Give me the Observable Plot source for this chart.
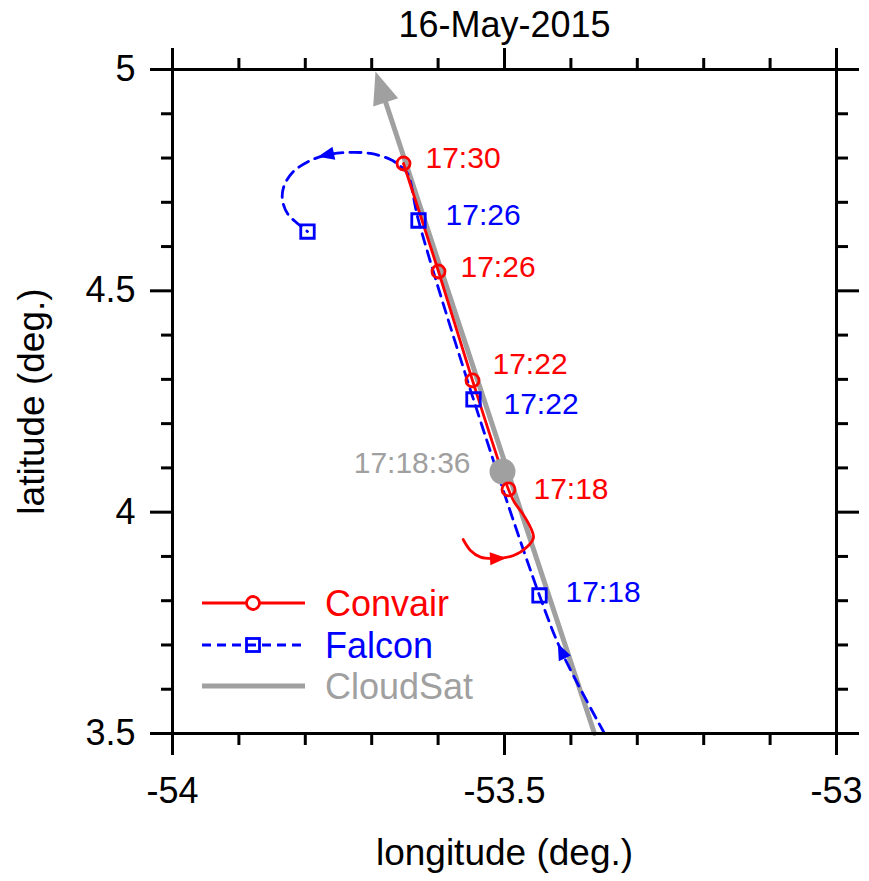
<!DOCTYPE html>
<html>
<head>
<meta charset="utf-8">
<script src="https://cdn.jsdelivr.net/npm/d3@7"></script>
<script src="https://cdn.jsdelivr.net/npm/@observablehq/plot@0.6"></script>
<style>
  body { margin: 0; background: #fff; }
  #chart { width: 869px; height: 881px; }
  #chart svg { overflow: visible; }
</style>
</head>
<body>
<div id="chart"></div>
<script>
// Convair flight track (lon/lat, deg.), in flight order
const convairLon = [-53.5622, -53.5512, -53.5361, -53.5136, -53.4864, -53.4654, -53.4563, -53.4608, -53.4729, -53.4849, -53.4940, -53.5482, -53.5994, -53.6521];
const convairLat = [3.9383, 3.9135, 3.8983, 3.8954, 3.9022, 3.9225, 3.9429, 3.9654, 3.9971, 4.0219, 4.0513, 4.2975, 4.5437, 4.7877];
// Convair time marks
const convairTimes = ["17:18", "17:22", "17:26", "17:30"];
const convairTimeLon = [-53.4940, -53.5482, -53.5994, -53.6521];
const convairTimeLat = [4.0513, 4.2975, 4.5437, 4.7877];

// Falcon flight track (lon/lat, deg.), in flight order
const falconLon = [-53.3494, -53.4127, -53.4473, -53.5467, -53.6295, -53.6461, -53.6581, -53.6717, -53.7018, -53.7364, -53.7650, -53.7922, -53.8193, -53.8328, -53.8343, -53.8268, -53.8117, -53.7967];
const falconLat = [3.5000, 3.6808, 3.8118, 4.2546, 4.6589, 4.7650, 4.7832, 4.7967, 4.8103, 4.8125, 4.8080, 4.7944, 4.7673, 4.7335, 4.7041, 4.6747, 4.6521, 4.6340];
// Falcon time marks
const falconTimes = ["17:18", "17:22", "17:26"];
const falconTimeLon = [-53.4473, -53.5467, -53.6295];
const falconTimeLat = [3.8118, 4.2546, 4.6589];

// CloudSat ground track and overpass point
const cloudsatLon = [-53.3645, -53.6943];
const cloudsatLat = [3.5000, 4.9955];
const overpassTime = "17:18:36";
const overpassLon = -53.503;
const overpassLat = 4.092;

// Axis ticks
const xMajor = [-54, -53.5, -53];
const yMajor = [3.5, 4, 4.5, 5];
const xMinor = d3.range(1, 10).map(i => +(-54 + i / 10).toFixed(1)).filter(v => !xMajor.includes(v));
const yMinor = d3.range(1, 15).map(i => +(3.5 + i / 10).toFixed(1)).filter(v => !yMajor.includes(v));

const title = "16-May-2015";
const xLabel = "longitude (deg.)";
const yLabel = "latitude (deg.)";
const seriesNames = ["Convair", "Falcon", "CloudSat"];

// ---- styling / layout ----
const W = 869, H = 881;
const mL = 172, mR = 33, mT = 69, mB = 148;
const FONT = '"Liberation Sans", Arial, Helvetica, sans-serif';
const RED = "#ff0000", BLUE = "#0000ff", GRAY = "#a0a0a0";
const DASH = "11,7";
const LINE_W = 2.8;

const pts = (lons, lats) => lons.map((lon, i) => ({lon, lat: lats[i]}));
const convair = pts(convairLon, convairLat);
const falcon = pts(falconLon, falconLat);
const convairMarks = convairTimes.map((t, i) => ({lon: convairTimeLon[i], lat: convairTimeLat[i], t}));
const falconMarks = falconTimes.map((t, i) => ({lon: falconTimeLon[i], lat: falconTimeLat[i], t}));
const falconEnd = falcon[falcon.length - 1];

// slender arrowhead symbol pointing up, centroid at the origin
const ARROW_LEN = 2.6, ARROW_HALF = 1.05;
const arrowSymbol = {
  draw(context, size) {
    const r = Math.sqrt(size / Math.PI);
    const L = ARROW_LEN * r, hw = ARROW_HALF * r;
    context.moveTo(0, -2 * L / 3);
    context.lineTo(hw, L / 3);
    context.lineTo(-hw, L / 3);
    context.closePath();
  }
};

// screen-space helpers (same domain/range as the plot scales) for arrow orientation
const sx = d3.scaleLinear([-54, -53], [mL, W - mR]);
const sy = d3.scaleLinear([3.5, 5], [H - mB, mT]);
const heading = (a, b) => Math.atan2(sx(b.lon) - sx(a.lon), -(sy(b.lat) - sy(a.lat))) * 180 / Math.PI;
const arrowAt = (track, i) => ({lon: track[i].lon, lat: track[i].lat, rot: heading(track[i - 1], track[i + 1])});

const arrows = [arrowAt(convair, 3), arrowAt(falcon, 1), arrowAt(falcon, 10)];
const arrowColors = [RED, BLUE, BLUE];

// CloudSat arrowhead: tip at the track end
const csStart = {lon: cloudsatLon[0], lat: cloudsatLat[0]};
const csTip = {lon: cloudsatLon[1], lat: cloudsatLat[1]};
const csRot = heading(csStart, csTip);
const csR = 12.5;
const csTipOffset = 2 * ARROW_LEN * csR / 3;
const csDir = [Math.sin(csRot * Math.PI / 180), -Math.cos(csRot * Math.PI / 180)];
const csCenter = {
  lon: sx.invert(sx(csTip.lon) - csDir[0] * csTipOffset),
  lat: sy.invert(sy(csTip.lat) - csDir[1] * csTipOffset),
  rot: csRot
};
const cloudsat = [csStart, csCenter];

// time label offsets (px) relative to their marks
const convairLabelOffset = {"17:18": [25, 0], "17:22": [20, -16], "17:26": [22, -4], "17:30": [22, -5.5]};
const falconLabelOffset = {"17:18": [26, -3], "17:22": [30, 4.5], "17:26": [27, -5.5]};

const labelMarks = (marks, offsets, color) => marks.map(d =>
  Plot.text([d], {x: "lon", y: "lat", text: "t", fill: color, fontSize: 30, textAnchor: "start",
    dx: offsets[d.t][0], dy: offsets[d.t][1]}));

const axisCommon = {strokeWidth: 3, label: null};

const plot = Plot.plot({
  width: W, height: H,
  marginLeft: mL, marginRight: mR, marginTop: mT, marginBottom: mB,
  style: {fontFamily: FONT, fontSize: "36px", background: "#fff", color: "#000", overflow: "visible"},
  x: {domain: [-54, -53]},
  y: {domain: [3.5, 5]},
  marks: [
    // tracks
    Plot.line(cloudsat, {x: "lon", y: "lat", stroke: GRAY, strokeWidth: 5}),
    Plot.line(falcon, {x: "lon", y: "lat", stroke: BLUE, strokeWidth: LINE_W, strokeDasharray: DASH, curve: "catmull-rom"}),
    Plot.line(convair, {x: "lon", y: "lat", stroke: RED, strokeWidth: LINE_W, curve: "catmull-rom"}),
    // direction arrows
    Plot.dot([csCenter], {x: "lon", y: "lat", symbol: arrowSymbol, r: csR, rotate: "rot", fill: GRAY, stroke: "none"}),
    Plot.dot(arrows, {x: "lon", y: "lat", symbol: arrowSymbol, r: 6.3, rotate: "rot", fill: (d, i) => arrowColors[i], stroke: "none"}),
    // CloudSat overpass
    Plot.dot([{lon: overpassLon, lat: overpassLat}], {x: "lon", y: "lat", r: 13, fill: GRAY, stroke: "none"}),
    Plot.text([{lon: overpassLon, lat: overpassLat, t: overpassTime}], {x: "lon", y: "lat", text: "t", fill: GRAY, fontSize: 30, textAnchor: "end", dx: -32, dy: -8.5}),
    // time marks
    Plot.dot([...falconMarks, falconEnd], {x: "lon", y: "lat", symbol: "square", r: 7.6, stroke: BLUE, strokeWidth: LINE_W, fill: "none"}),
    Plot.dot(convairMarks, {x: "lon", y: "lat", r: 6.5, stroke: RED, strokeWidth: LINE_W, fill: "none"}),
    ...labelMarks(convairMarks, convairLabelOffset, RED),
    ...labelMarks(falconMarks, falconLabelOffset, BLUE),
    // axes: major and minor ticks on all four sides, pointing outward
    Plot.axisX(xMajor, {...axisCommon, anchor: "bottom", tickSize: 22, tickPadding: 22, fontSize: 36, tickFormat: d => String(d)}),
    Plot.axisX(xMajor, {...axisCommon, anchor: "top", tickSize: 22, text: null}),
    Plot.axisX(xMinor, {...axisCommon, anchor: "bottom", tickSize: 12, text: null}),
    Plot.axisX(xMinor, {...axisCommon, anchor: "top", tickSize: 12, text: null}),
    Plot.axisY(yMajor, {...axisCommon, anchor: "left", tickSize: 22, tickPadding: 15, fontSize: 36, tickFormat: d => String(d)}),
    Plot.axisY(yMajor, {...axisCommon, anchor: "right", tickSize: 22, text: null}),
    Plot.axisY(yMinor, {...axisCommon, anchor: "left", tickSize: 11, text: null}),
    Plot.axisY(yMinor, {...axisCommon, anchor: "right", tickSize: 11, text: null}),
    Plot.frame({stroke: "#000", strokeWidth: 3}),
    // titles
    Plot.text([title], {frameAnchor: "top", dy: -44, fontSize: 36, fill: "#000", lineAnchor: "middle"}),
    Plot.text([xLabel], {frameAnchor: "bottom", dy: 120, fontSize: 37, fill: "#000", lineAnchor: "middle"}),
    Plot.text([yLabel], {frameAnchor: "left", dx: -140, rotate: -90, fontSize: 37, fill: "#000", textAnchor: "middle", lineAnchor: "middle"})
  ]
});

// legend (lower left, inside the frame)
const svg = d3.select(plot);
const legend = svg.append("g").attr("font-family", FONT).attr("font-size", 36).attr("text-anchor", "start");
const legendColors = [RED, BLUE, GRAY];
const rowsY = [603, 645, 686];
const x0 = 202, x1 = 305, xm = 253, xt = 325;
seriesNames.forEach((name, i) => {
  const y = rowsY[i];
  const line = legend.append("line").attr("x1", x0).attr("x2", x1).attr("y1", y).attr("y2", y)
    .attr("stroke", legendColors[i]).attr("stroke-width", i === 2 ? 5 : LINE_W);
  if (i === 1) line.attr("stroke-dasharray", "9,6");
  if (i === 0) legend.append("circle").attr("cx", xm).attr("cy", y).attr("r", 6.5)
    .attr("fill", "#fff").attr("stroke", RED).attr("stroke-width", LINE_W);
  if (i === 1) legend.append("rect").attr("x", xm - 6.5).attr("y", y - 6.5).attr("width", 13).attr("height", 13)
    .attr("fill", "none").attr("stroke", BLUE).attr("stroke-width", LINE_W);
  legend.append("text").attr("x", xt).attr("y", y).attr("dy", "0.35em")
    .attr("fill", legendColors[i]).attr("text-anchor", "start").text(name);
});

document.getElementById("chart").append(plot);
</script>
</body>
</html>
